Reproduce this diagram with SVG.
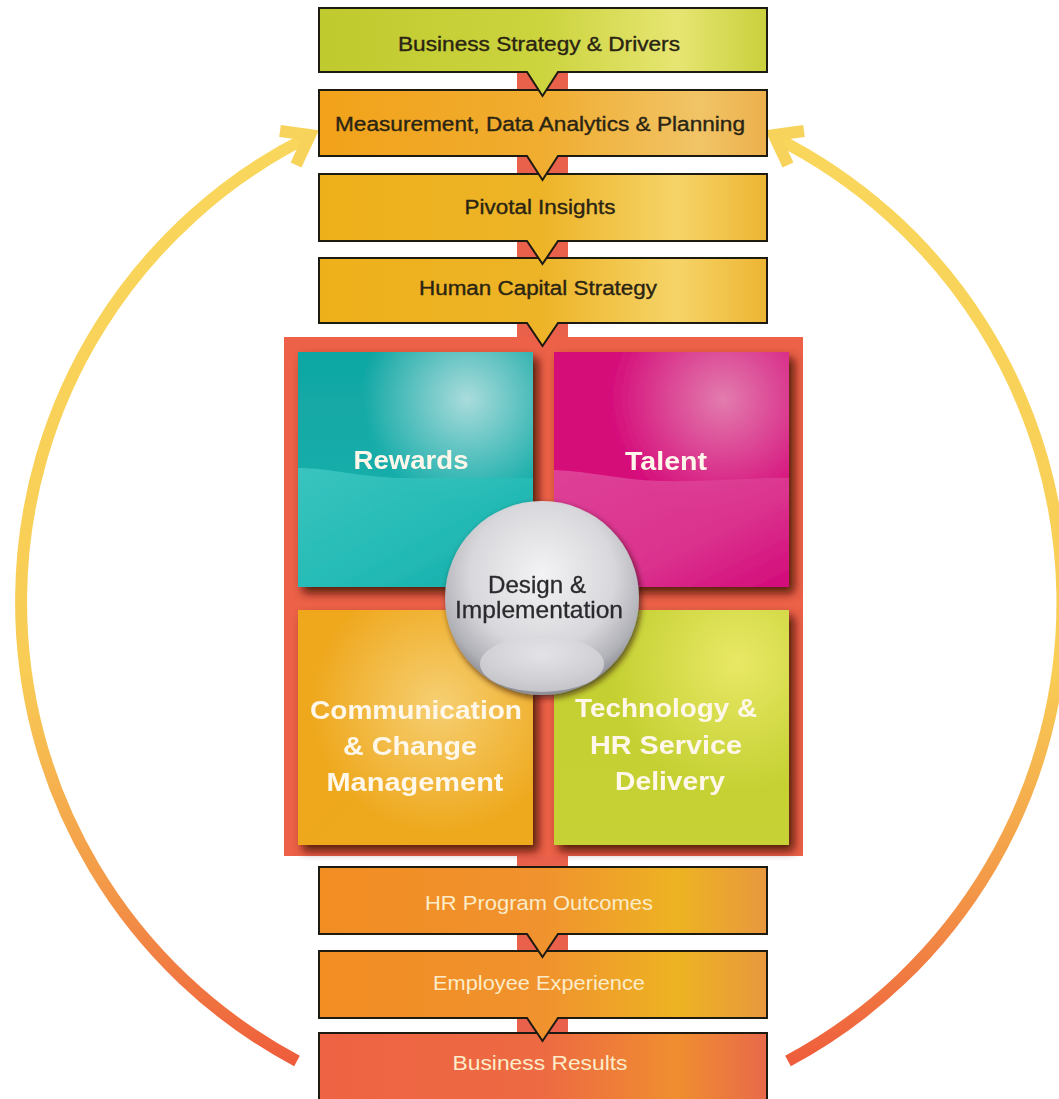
<svg xmlns="http://www.w3.org/2000/svg" width="1059" height="1099" viewBox="0 0 1059 1099">
  <defs>
    <style>
      .box { stroke: #1d1a12; stroke-width: 2; stroke-linejoin: miter; }
      .lbl-dark { font-family: "Liberation Sans", Arial, sans-serif; font-size: 20px; fill: #2a2413; stroke: #2a2413; stroke-width: 0.35; text-anchor: middle; }
      .lbl-light { font-family: "Liberation Sans", Arial, sans-serif; font-size: 20px; fill: #fcecc9; text-anchor: middle; }
      .quad-lbl { font-family: "Liberation Sans", Arial, sans-serif; font-size: 26px; font-weight: bold; fill: #fff8ea; text-anchor: middle; }
      .hub-lbl { font-family: "Liberation Sans", Arial, sans-serif; font-size: 24px; fill: #2b2b2e; stroke: #2b2b2e; stroke-width: 0.3; text-anchor: middle; }
      .arc { fill: none; stroke-width: 12; stroke-linecap: butt; }
      .head { fill: none; stroke: #f8d35c; stroke-width: 12; stroke-linejoin: miter; stroke-linecap: butt; }
    </style>

    <!-- loop arcs: yellow at the top, red at the bottom -->
    <linearGradient id="arcGrad" gradientUnits="userSpaceOnUse" x1="0" y1="130" x2="0" y2="1070">
      <stop offset="0" stop-color="#f9d75c"/>
      <stop offset="0.58" stop-color="#f8cc55"/>
      <stop offset="0.8" stop-color="#f39a48"/>
      <stop offset="1" stop-color="#ee5a3b"/>
    </linearGradient>

    <!-- step boxes -->
    <linearGradient id="gGreen" x1="0" y1="0" x2="1" y2="0">
      <stop offset="0" stop-color="#bfca2e"/>
      <stop offset="0.5" stop-color="#ccd43e"/>
      <stop offset="0.8" stop-color="#e6e572"/>
      <stop offset="1" stop-color="#c9d03c"/>
    </linearGradient>
    <linearGradient id="gOrange" x1="0" y1="0" x2="1" y2="0">
      <stop offset="0" stop-color="#f2a21a"/>
      <stop offset="0.5" stop-color="#f0ad30"/>
      <stop offset="0.85" stop-color="#f1c466"/>
      <stop offset="1" stop-color="#ecb04c"/>
    </linearGradient>
    <linearGradient id="gGold" x1="0" y1="0" x2="1" y2="0">
      <stop offset="0" stop-color="#eeb01a"/>
      <stop offset="0.5" stop-color="#edb428"/>
      <stop offset="0.8" stop-color="#f6d468"/>
      <stop offset="1" stop-color="#edb532"/>
    </linearGradient>
    <linearGradient id="gOut" x1="0" y1="0" x2="1" y2="0">
      <stop offset="0" stop-color="#f28d22"/>
      <stop offset="0.5" stop-color="#f0922e"/>
      <stop offset="0.8" stop-color="#edb322"/>
      <stop offset="1" stop-color="#e8983e"/>
    </linearGradient>
    <linearGradient id="gResult" x1="0" y1="0" x2="1" y2="0">
      <stop offset="0" stop-color="#ee6343"/>
      <stop offset="0.5" stop-color="#ed6a42"/>
      <stop offset="0.8" stop-color="#f08e30"/>
      <stop offset="1" stop-color="#e8694a"/>
    </linearGradient>

    <!-- quadrant tiles -->
    <linearGradient id="tealBase" x1="0" y1="0" x2="0" y2="1">
      <stop offset="0" stop-color="#10a6a3"/>
      <stop offset="1" stop-color="#1ab3af"/>
    </linearGradient>
    <radialGradient id="tealGlow" cx="0.72" cy="0.2" r="0.45">
      <stop offset="0" stop-color="#aadcdc" stop-opacity="1"/>
      <stop offset="1" stop-color="#aadcdc" stop-opacity="0"/>
    </radialGradient>
    <linearGradient id="tealLow" x1="0" y1="0" x2="1" y2="1">
      <stop offset="0" stop-color="#3fc8c2"/>
      <stop offset="0.6" stop-color="#25bbb6"/>
      <stop offset="1" stop-color="#12a9a6"/>
    </linearGradient>

    <linearGradient id="pinkBase" x1="0" y1="0" x2="0" y2="1">
      <stop offset="0" stop-color="#d40a78"/>
      <stop offset="1" stop-color="#d6087a"/>
    </linearGradient>
    <radialGradient id="pinkGlow" cx="0.72" cy="0.2" r="0.5">
      <stop offset="0" stop-color="#e27cae" stop-opacity="1"/>
      <stop offset="1" stop-color="#e27cae" stop-opacity="0"/>
    </radialGradient>
    <linearGradient id="pinkLow" x1="0" y1="0" x2="1" y2="1">
      <stop offset="0" stop-color="#e04a9c"/>
      <stop offset="0.6" stop-color="#dc3a92"/>
      <stop offset="1" stop-color="#d20a7a"/>
    </linearGradient>

    <linearGradient id="ambBase" x1="0" y1="0" x2="1" y2="1">
      <stop offset="0" stop-color="#efa71c"/>
      <stop offset="1" stop-color="#eea91e"/>
    </linearGradient>
    <radialGradient id="ambGlow" cx="0.6" cy="0.4" r="0.55">
      <stop offset="0" stop-color="#f6cf72" stop-opacity="1"/>
      <stop offset="1" stop-color="#f6cf72" stop-opacity="0"/>
    </radialGradient>

    <linearGradient id="limeBase" x1="0" y1="0" x2="0" y2="1">
      <stop offset="0" stop-color="#c3cf30"/>
      <stop offset="1" stop-color="#c6d234"/>
    </linearGradient>
    <radialGradient id="limeGlow" cx="0.78" cy="0.22" r="0.55">
      <stop offset="0" stop-color="#e9e866" stop-opacity="1"/>
      <stop offset="1" stop-color="#e9e866" stop-opacity="0"/>
    </radialGradient>

    <!-- central hub -->
    <radialGradient id="hubGrad" cx="0.5" cy="0.38" r="0.6">
      <stop offset="0" stop-color="#f3f3f5"/>
      <stop offset="0.62" stop-color="#d8d8dc"/>
      <stop offset="0.9" stop-color="#b0b0b7"/>
      <stop offset="1" stop-color="#909098"/>
    </radialGradient>
    <radialGradient id="hubLens" cx="0.5" cy="0.35" r="0.65">
      <stop offset="0" stop-color="#e6e6ea"/>
      <stop offset="1" stop-color="#cdcdd2"/>
    </radialGradient>

    <filter id="tileShadow" x="-20%" y="-20%" width="150%" height="150%">
      <feDropShadow dx="5" dy="6" stdDeviation="5" flood-color="#3a0e05" flood-opacity="0.85"/>
    </filter>
    <filter id="hubShadow" x="-20%" y="-20%" width="140%" height="140%">
      <feDropShadow dx="2" dy="3" stdDeviation="3" flood-color="#2a1008" flood-opacity="0.7"/>
    </filter>
  </defs>

  <rect width="1059" height="1099" fill="#ffffff"/>

  <!-- connectors: return loops and the central spine -->
  <g id="connectors">
    <path class="arc" stroke="url(#arcGrad)" d="M297,1061 A520,520 0 0 1 308,137"/>
    <polyline class="head" points="280,131 310,135 296,165"/>
    <path class="arc" stroke="url(#arcGrad)" d="M788,1061 A520,520 0 0 0 774,137"/>
    <polyline class="head" points="804,131 774,135 788,165"/>
    <rect x="517" y="70" width="51" height="970" fill="#e9604b"/>
  </g>

  <!-- design & implementation block -->
  <g id="hr-programs-frame">
    <rect x="284" y="337" width="519" height="519" fill="#ec6147"/>
  </g>

  <g id="rewards" filter="url(#tileShadow)">
    <rect x="298" y="352" width="235" height="235" fill="url(#tealBase)"/>
    <rect x="298" y="352" width="235" height="235" fill="url(#tealGlow)"/>
    <path d="M298,468 C330,468 360,477 400,478 C450,479 500,477 533,478 V587 H298 Z" fill="url(#tealLow)" opacity="0.85"/>
    <text class="quad-lbl" x="411" y="469" textLength="115" lengthAdjust="spacingAndGlyphs">Rewards</text>
  </g>

  <g id="talent" filter="url(#tileShadow)">
    <rect x="554" y="352" width="235" height="235" fill="url(#pinkBase)"/>
    <rect x="554" y="352" width="235" height="235" fill="url(#pinkGlow)"/>
    <path d="M554,470 C590,471 620,480 660,481 C710,482 760,477 789,478 V587 H554 Z" fill="url(#pinkLow)" opacity="0.85"/>
    <text class="quad-lbl" x="666" y="470" textLength="82" lengthAdjust="spacingAndGlyphs">Talent</text>
  </g>

  <g id="communication" filter="url(#tileShadow)">
    <rect x="298" y="610" width="235" height="235" fill="url(#ambBase)"/>
    <rect x="298" y="610" width="235" height="235" fill="url(#ambGlow)"/>
    <text class="quad-lbl" x="416" y="719" textLength="212" lengthAdjust="spacingAndGlyphs">Communication</text>
    <text class="quad-lbl" x="410" y="755" textLength="134" lengthAdjust="spacingAndGlyphs">&amp; Change</text>
    <text class="quad-lbl" x="415" y="791" textLength="177" lengthAdjust="spacingAndGlyphs">Management</text>
  </g>

  <g id="technology" filter="url(#tileShadow)">
    <rect x="554" y="610" width="235" height="235" fill="url(#limeBase)"/>
    <rect x="554" y="610" width="235" height="235" fill="url(#limeGlow)"/>
    <text class="quad-lbl" x="666" y="717" textLength="182" lengthAdjust="spacingAndGlyphs">Technology &amp;</text>
    <text class="quad-lbl" x="666" y="754" textLength="152" lengthAdjust="spacingAndGlyphs">HR Service</text>
    <text class="quad-lbl" x="670" y="790" textLength="110" lengthAdjust="spacingAndGlyphs">Delivery</text>
  </g>

  <g id="design-implementation" filter="url(#hubShadow)">
    <circle cx="542" cy="598" r="97" fill="url(#hubGrad)"/>
    <ellipse cx="542" cy="664" rx="62" ry="28" fill="url(#hubLens)" opacity="0.85"/>
    <text class="hub-lbl" x="537" y="593" textLength="98" lengthAdjust="spacingAndGlyphs">Design &amp;</text>
    <text class="hub-lbl" x="539" y="618" textLength="168" lengthAdjust="spacingAndGlyphs">Implementation</text>
  </g>

  <!-- step boxes, drawn bottom-up so each pointer overlaps the box below -->
  <g id="business-results">
    <path class="box" d="M319,1033 H767 V1110 H319 Z" fill="url(#gResult)"/>
    <text class="lbl-light" x="540" y="1070" textLength="175" lengthAdjust="spacingAndGlyphs">Business Results</text>
  </g>

  <g id="employee-experience">
    <path class="box" d="M319,951 H767 V1018 H558 L542.5,1041 L527,1018 H319 Z" fill="url(#gOut)"/>
    <text class="lbl-light" x="539" y="990" textLength="212" lengthAdjust="spacingAndGlyphs">Employee Experience</text>
  </g>

  <g id="hr-program-outcomes">
    <path class="box" d="M319,867 H767 V934 H558 L542.5,957 L527,934 H319 Z" fill="url(#gOut)"/>
    <text class="lbl-light" x="539" y="910" textLength="228" lengthAdjust="spacingAndGlyphs">HR Program Outcomes</text>
  </g>

  <g id="human-capital-strategy">
    <path class="box" d="M319,258 H767 V323 H558 L542.5,346 L527,323 H319 Z" fill="url(#gGold)"/>
    <text class="lbl-dark" x="538" y="295" textLength="238" lengthAdjust="spacingAndGlyphs">Human Capital Strategy</text>
  </g>

  <g id="pivotal-insights">
    <path class="box" d="M319,174 H767 V241 H558 L542.5,264 L527,241 H319 Z" fill="url(#gGold)"/>
    <text class="lbl-dark" x="540" y="214" textLength="151" lengthAdjust="spacingAndGlyphs">Pivotal Insights</text>
  </g>

  <g id="measurement-analytics">
    <path class="box" d="M319,90 H767 V156 H558 L542.5,180 L527,156 H319 Z" fill="url(#gOrange)"/>
    <text class="lbl-dark" x="540" y="131" textLength="410" lengthAdjust="spacingAndGlyphs">Measurement, Data Analytics &amp; Planning</text>
  </g>

  <g id="business-strategy">
    <path class="box" d="M319,8 H767 V72 H558 L542.5,96 L527,72 H319 Z" fill="url(#gGreen)"/>
    <text class="lbl-dark" x="539" y="51" textLength="282" lengthAdjust="spacingAndGlyphs">Business Strategy &amp; Drivers</text>
  </g>
</svg>
